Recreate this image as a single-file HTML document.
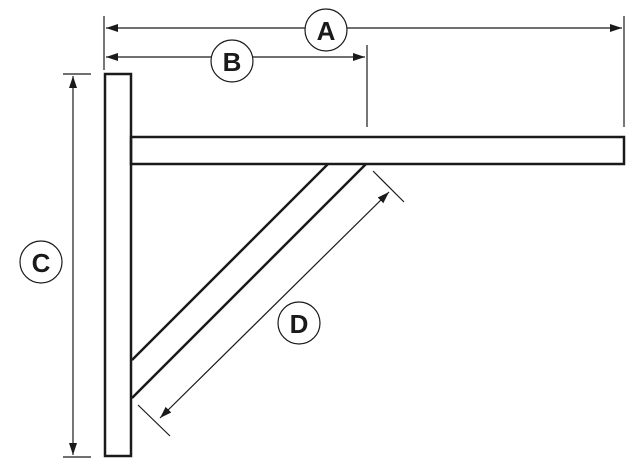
<!DOCTYPE html>
<html><head><meta charset="utf-8"><style>html,body{margin:0;padding:0;background:#fff}</style></head>
<body>
<svg width="633" height="466" viewBox="0 0 633 466" xmlns="http://www.w3.org/2000/svg">
<defs>
<marker id="ar" viewBox="0 0 12 8" refX="12" refY="4" markerWidth="12" markerHeight="8" markerUnits="userSpaceOnUse" orient="auto-start-reverse">
<path d="M0,0 L12,4 L0,8 z" fill="#1a1a1a"/></marker>
</defs>
<g stroke="#1a1a1a" fill="none">
<rect x="105" y="74" width="26" height="382" stroke-width="2.5"/>
<rect x="131" y="137" width="493" height="27" stroke-width="2.5"/>
<line x1="328" y1="164" x2="132" y2="360" stroke-width="2.5"/>
<line x1="366" y1="164" x2="132" y2="398" stroke-width="2.5"/>
<g stroke-width="1.2">
<line x1="104" y1="16" x2="104" y2="70"/>
<line x1="624" y1="16" x2="624" y2="127"/>
<line x1="367" y1="45" x2="367" y2="127"/>
<line x1="106" y1="28" x2="305" y2="28" marker-start="url(#ar)"/>
<line x1="347" y1="28" x2="622" y2="28" marker-end="url(#ar)"/>
<line x1="106" y1="57" x2="211" y2="57" marker-start="url(#ar)"/>
<line x1="253" y1="57" x2="365" y2="57" marker-end="url(#ar)"/>
<line x1="63" y1="74" x2="91" y2="74"/>
<line x1="63" y1="457" x2="91" y2="457"/>
<line x1="73" y1="76" x2="73" y2="455" marker-start="url(#ar)" marker-end="url(#ar)"/>
<line x1="373" y1="171" x2="404" y2="202"/>
<line x1="138" y1="405" x2="170" y2="436"/>
<line x1="389" y1="192" x2="160" y2="418" marker-start="url(#ar)" marker-end="url(#ar)"/>
<circle cx="326" cy="30" r="21" fill="#fff"/>
<circle cx="232" cy="61" r="21" fill="#fff"/>
<circle cx="41" cy="262" r="21" fill="#fff"/>
<circle cx="299" cy="323" r="21" fill="#fff"/>
</g>
</g>
<g font-family="Liberation Sans, sans-serif" font-weight="bold" font-size="26" fill="#1a1a1a" text-anchor="middle">
<text x="326" y="40">A</text>
<text x="232" y="71">B</text>
<text x="41" y="272">C</text>
<text x="299" y="333">D</text>
</g>
</svg>
</body></html>
